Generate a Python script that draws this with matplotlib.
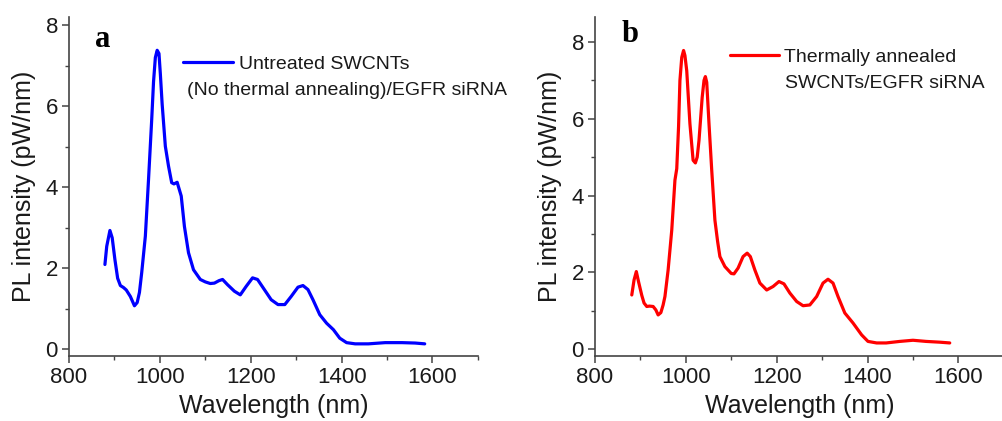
import matplotlib
matplotlib.use('Agg')
import matplotlib.pyplot as plt
from matplotlib.ticker import MultipleLocator

plt.rcParams['font.family'] = ['Liberation Sans', 'DejaVu Sans']

# panel a: untreated SWCNTs (blue)
wl_a = [879, 883, 890, 895, 901, 907, 913, 920, 926, 935, 944, 950, 955, 960,
        968, 975, 982, 986, 990, 994, 998, 1001, 1005, 1012, 1019, 1026, 1031,
        1038, 1047, 1054, 1063, 1074, 1089, 1100, 1111, 1120, 1130, 1138, 1149,
        1164, 1177, 1190, 1204, 1215, 1230, 1245, 1260, 1275, 1289, 1304, 1315,
        1326, 1337, 1352, 1367, 1382, 1396, 1411, 1430, 1459, 1496, 1533, 1562,
        1583]
pl_a = [2.09, 2.54, 2.93, 2.75, 2.21, 1.75, 1.57, 1.52, 1.46, 1.30, 1.07, 1.15,
        1.40, 1.89, 2.79, 4.19, 5.67, 6.60, 7.20, 7.38, 7.30, 6.80, 6.05, 5.01,
        4.52, 4.11, 4.08, 4.12, 3.78, 3.03, 2.38, 1.96, 1.72, 1.66, 1.62, 1.63,
        1.69, 1.72, 1.59, 1.43, 1.34, 1.55, 1.76, 1.72, 1.47, 1.22, 1.10, 1.10,
        1.30, 1.53, 1.57, 1.47, 1.22, 0.85, 0.64, 0.48, 0.27, 0.16, 0.13, 0.13,
        0.16, 0.16, 0.15, 0.13]

# panel b: thermally annealed SWCNTs (red)
wl_b = [881, 886, 891, 896, 903, 908, 914, 920, 928, 934, 939, 945, 950, 954,
        961, 969, 976, 980, 984, 987, 991, 995, 998, 1002, 1009, 1016, 1021,
        1025, 1029, 1036, 1040, 1043, 1046, 1051, 1057, 1064, 1070, 1075, 1086,
        1100, 1106, 1115, 1126, 1135, 1142, 1152, 1163, 1178, 1192, 1205, 1216,
        1229, 1244, 1258, 1273, 1288, 1302, 1313, 1324, 1335, 1350, 1368, 1387,
        1401, 1420, 1441, 1471, 1500, 1529, 1559, 1581]
pl_b = [1.41, 1.80, 2.02, 1.75, 1.40, 1.20, 1.11, 1.12, 1.11, 1.02, 0.89, 0.95,
        1.15, 1.37, 2.06, 3.10, 4.40, 4.70, 5.80, 7.00, 7.60, 7.78, 7.65, 7.25,
        5.87, 4.92, 4.85, 5.00, 5.44, 6.56, 7.00, 7.10, 6.95, 5.87, 4.66, 3.36,
        2.80, 2.41, 2.15, 1.97, 1.96, 2.11, 2.41, 2.50, 2.41, 2.06, 1.72, 1.54,
        1.63, 1.76, 1.70, 1.46, 1.24, 1.13, 1.15, 1.37, 1.72, 1.82, 1.72, 1.37,
        0.94, 0.68, 0.37, 0.20, 0.16, 0.16, 0.20, 0.23, 0.20, 0.18, 0.16]

fig = plt.figure(figsize=(10.02, 4.21), dpi=100)
ax_a = fig.add_axes([0.0689, 0.1544, 0.408, 0.805])
ax_b = fig.add_axes([0.5938, 0.1544, 0.408, 0.805])

panels = [
    (ax_a, wl_a, pl_a, '#0000ff', (-0.17, 8.2), 'Untreated SWCNTs'),
    (ax_b, wl_b, pl_b, '#ff0000', (-0.18, 8.65), 'Thermally annealed'),
]

for ax, wl, pl, col, ylim, lab in panels:
    ax.plot(wl, pl, color=col, lw=2.3, label=lab,
            solid_joinstyle='round', solid_capstyle='round')
    ax.set_xlim(800, 1700)
    ax.set_ylim(*ylim)
    ax.xaxis.set_major_locator(MultipleLocator(200))
    ax.xaxis.set_minor_locator(MultipleLocator(100))
    ax.yaxis.set_major_locator(MultipleLocator(2))
    ax.yaxis.set_minor_locator(MultipleLocator(1))
    for s in ['top', 'right']:
        ax.spines[s].set_visible(False)
    for s in ['left', 'bottom']:
        ax.spines[s].set_color('#444444')
        ax.spines[s].set_linewidth(1.2)
    ax.tick_params(which='major', direction='out', length=5, width=1.1,
                   color='#444444', labelsize=16, pad=3, labelcolor='#1a1a1a')
    ax.tick_params(which='minor', direction='out', length=3, width=1.0,
                   color='#444444')
    ax.set_xlabel('Wavelength (nm)', fontsize=18, color='#1a1a1a', labelpad=4)
    ax.set_ylabel('PL intensity (pW/nm)', fontsize=18, color='#1a1a1a', labelpad=7)
    ax.patch.set_alpha(0)

# panel letters
ax_a.text(0.063, 0.935, 'a', transform=ax_a.transAxes, fontsize=22,
          fontweight='bold', family=['Liberation Serif'], va='center')
ax_b.text(0.065, 0.95, 'b', transform=ax_b.transAxes, fontsize=22,
          fontweight='bold', family=['Liberation Serif'], va='center')

# legends (first line as legend entry, second line as plain text)
leg_a = ax_a.legend(loc='center left', bbox_to_anchor=(0.279, 0.861),
                    frameon=False, fontsize=14, handlelength=2.55,
                    handletextpad=0.3, borderaxespad=0, borderpad=0)
ax_a.text(0.288, 0.783, '(No thermal annealing)/EGFR siRNA',
          transform=ax_a.transAxes, fontsize=14, va='center', color='#1a1a1a')
leg_b = ax_b.legend(loc='center left', bbox_to_anchor=(0.330, 0.882),
                    frameon=False, fontsize=14, handlelength=2.5,
                    handletextpad=0.3, borderaxespad=0, borderpad=0)
ax_b.text(0.4645, 0.805, 'SWCNTs/EGFR siRNA',
          transform=ax_b.transAxes, fontsize=14, va='center', color='#1a1a1a')
for leg in (leg_a, leg_b):
    for t in leg.get_texts():
        t.set_color('#1a1a1a')

fig.savefig('out.png', dpi=100)
